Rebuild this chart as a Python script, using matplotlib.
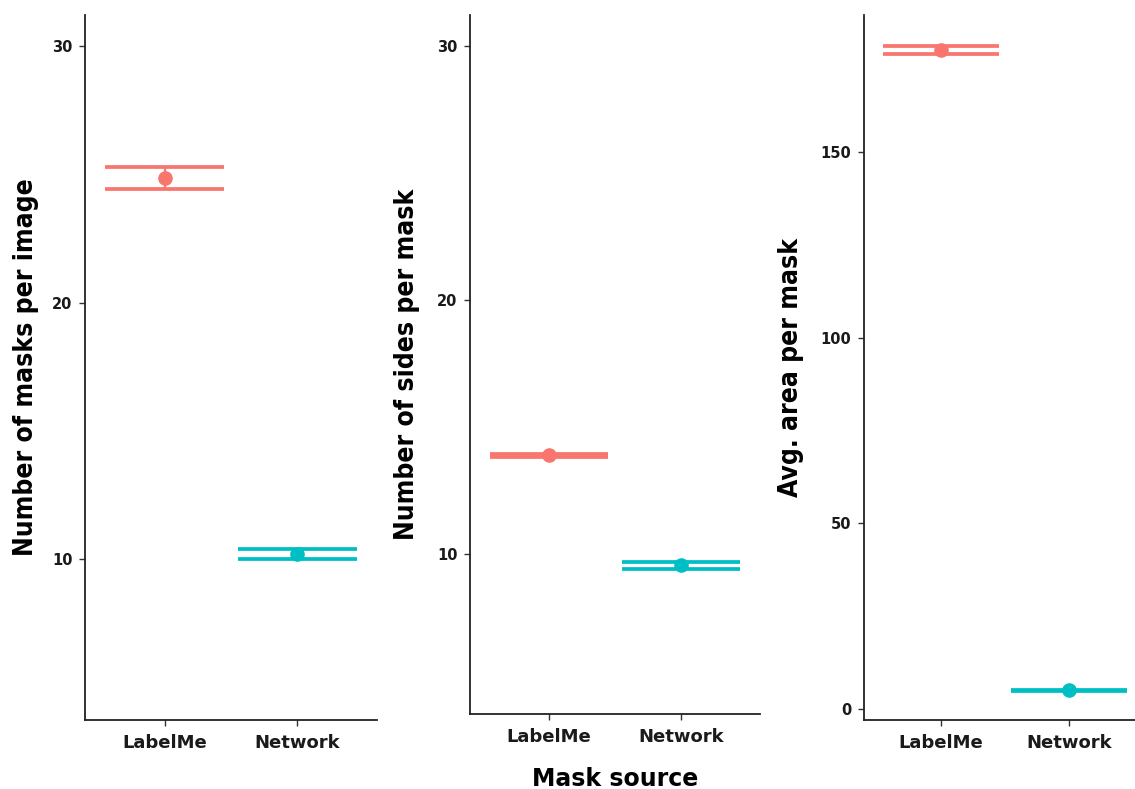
import matplotlib
matplotlib.use("Agg")
from matplotlib import pyplot as plt
import numpy as np

# groups on the x axis
groups = ["LabelMe", "Network"]
colors = ["#F8766D", "#00BFC4"]

# number of masks per image (mean, lower, upper)
masks_mean = [24.85, 10.22]
masks_lo = [24.42, 10.02]
masks_hi = [25.28, 10.42]

# number of sides per mask
sides_mean = [13.90, 9.57]
sides_lo = [13.84, 9.44]
sides_hi = [13.96, 9.70]

# average area per mask
area_mean = [177.4, 5.0]
area_lo = [176.4, 4.8]
area_hi = [178.5, 5.2]

ylabels = ["Number of masks per image", "Number of sides per mask", "Avg. area per mask"]
yticks = [[10, 20, 30], [10, 20, 30], [0, 50, 100, 150]]
ylims = [(3.75, 31.2), (3.72, 31.2), (-3.0, 186.9)]

W, H = 1135, 789
# panel boxes in pixels: left, right, top, bottom
boxes = [(85, 377, 15, 720), (470, 760, 15, 714), (864, 1146, 15, 720)]

fig = plt.figure(figsize=(W / 100, H / 100), dpi=100)

panels = [(masks_mean, masks_lo, masks_hi),
          (sides_mean, sides_lo, sides_hi),
          (area_mean, area_lo, area_hi)]

x = np.arange(1, len(groups) + 1)

for i, (mean, lo, hi) in enumerate(panels):
    l, r, t, b = boxes[i]
    ax = fig.add_axes([l / W, (H - b) / H, (r - l) / W, (b - t) / H])

    for j in range(len(groups)):
        c = colors[j]
        ax.vlines(x[j], lo[j], hi[j], color=c, lw=1.6, zorder=2)
        ax.hlines([lo[j], hi[j]], x[j] - 0.45, x[j] + 0.45, color=c, lw=2.7, zorder=2)
        ax.plot(x[j], mean[j], "o", color=c, ms=9.5, mec=c, zorder=3)

    ax.set_xlim(0.4, 2.6)
    ax.set_ylim(*ylims[i])
    ax.set_xticks(x)
    ax.set_xticklabels(groups, fontsize=13, fontweight="bold", color="#1a1a1a")
    ax.set_yticks(yticks[i])
    ax.set_yticklabels([str(v) for v in yticks[i]], fontsize=10.5, fontweight="bold",
                       color="#1a1a1a")
    ax.tick_params(axis="both", length=4, width=1.0, color="#333333", pad=5)
    ax.tick_params(axis="x", pad=6)

    for side in ["top", "right"]:
        ax.spines[side].set_visible(False)
    for side in ["left", "bottom"]:
        ax.spines[side].set_linewidth(1.3)
        ax.spines[side].set_color("#222222")

    ax.set_ylabel(ylabels[i], fontsize=19, fontweight="bold", fontstretch="condensed",
                  labelpad=9 if i == 0 else 12)

    if i == 1:
        ax.set_xlabel("Mask source", fontsize=17, fontweight="bold", labelpad=15)

fig.savefig("out.png", dpi=100)
